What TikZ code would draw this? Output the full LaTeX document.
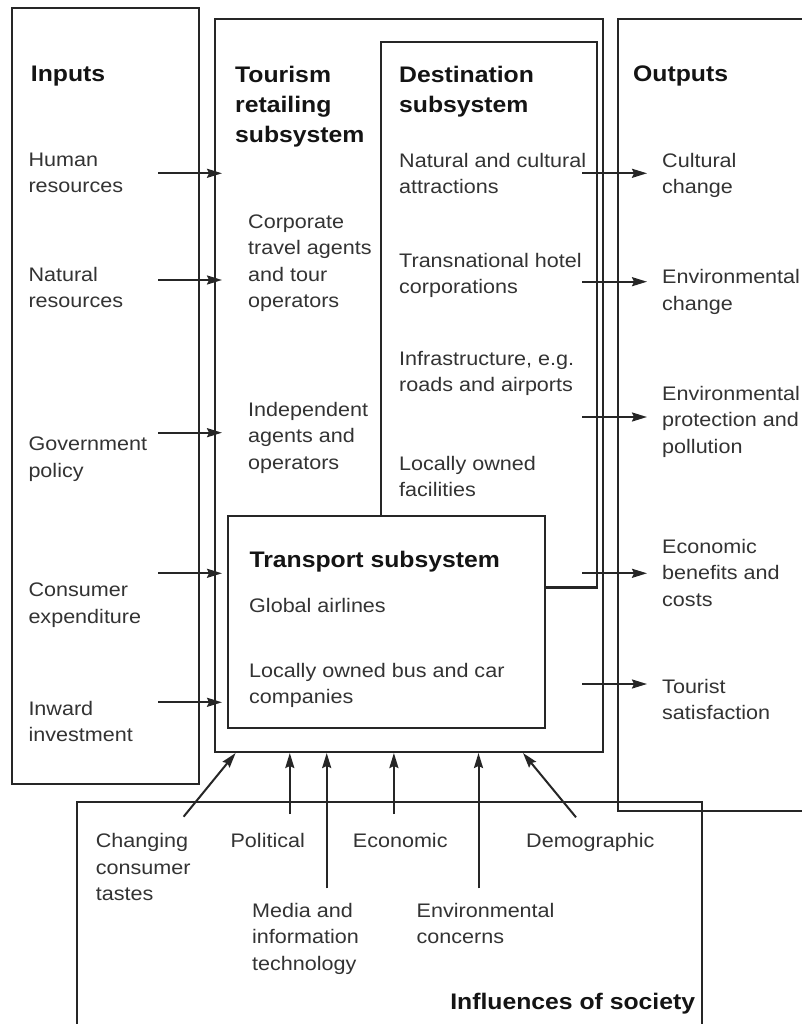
\documentclass[tikz,border=0pt]{standalone}
\usepackage{fontspec}
\setmainfont{Liberation Sans}[FakeStretch=1.1]
\usetikzlibrary{arrows.meta}
\begin{document}
\begin{tikzpicture}[x=1pt,y=-1pt,
  box/.style={draw=black!85,line width=2.3pt},
  arr/.style={draw=black!85,line width=2pt,-{Stealth[length=15pt,width=9pt,inset=2pt]}},
  lbl/.style={anchor=north west,inner sep=0pt,align=left,text=black!80,font=\fontsize{19.6}{26.5}\selectfont},
  hd/.style={anchor=north west,inner sep=0pt,align=left,text=black!92,font=\bfseries\fontsize{22.5}{30}\selectfont}]
\clip (0,0) rectangle (802,1024);
\fill[white] (0,0) rectangle (802,1024);

% boxes
\draw[box] (12.3,8.3) rectangle (199,784);
\draw[box] (215,19) rectangle (603.3,752);
\draw[box] (545,587.5) -- (596.7,587.5) -- (596.7,41.7) -- (381,41.7) -- (381,516);
\draw[box] (228.3,516) rectangle (545,728.3);
\draw[box] (618.3,19) rectangle (840,810.7);
\draw[box] (77.3,801.7) rectangle (702,1050);

% headings
\node[hd] (inputs) at (30.7,65.6) {Inputs};
\node[hd] (trs) at (235,65.6) {Tourism\\retailing\\subsystem};
\node[hd] (ds) at (399,65.6) {Destination\\subsystem};
\node[hd] (outputs) at (633,65.6) {Outputs};
\node[hd] (tsub) at (249.3,550.6) {Transport subsystem};
\node[hd,anchor=north east] (infl) at (695.3,993.2) {Influences of society};

% inputs
\node[lbl] (hr) at (28.3,152.7) {Human\\resources};
\node[lbl] (nr) at (28.3,267) {Natural\\resources};
\node[lbl] (gp) at (28.3,436.7) {Government\\policy};
\node[lbl] (ce) at (28.3,583) {Consumer\\expenditure};
\node[lbl] (ii) at (28.3,701) {Inward\\investment};

% tourism retailing
\node[lbl] (corp) at (248,214.3) {Corporate\\travel agents\\and tour\\operators};
\node[lbl] (indep) at (248,401.7) {Independent\\agents and\\operators};

% destination
\node[lbl] (nca) at (399,152.7) {Natural and cultural\\attractions};
\node[lbl] (thc) at (399,252.7) {Transnational hotel\\corporations};
\node[lbl] (infra) at (399,351) {Infrastructure, e.g.\\roads and airports};
\node[lbl] (lof) at (399,456) {Locally owned\\facilities};

% transport
\node[lbl] (ga) at (249,597.7) {Global airlines};
\node[lbl] (lob) at (249,662.7) {Locally owned bus and car\\companies};

% outputs
\node[lbl] (cc) at (662,152.7) {Cultural\\change};
\node[lbl] (ec) at (662,269.3) {Environmental\\change};
\node[lbl] (epp) at (662,386) {Environmental\\protection and\\pollution};
\node[lbl] (ebc) at (662,538.7) {Economic\\benefits and\\costs};
\node[lbl] (ts) at (662,678.7) {Tourist\\satisfaction};

% influences
\node[lbl] (cct) at (95.6,833.3) {Changing\\consumer\\tastes};
\node[lbl] (pol) at (230.4,833) {Political};
\node[lbl] (eco) at (352.7,833) {Economic};
\node[lbl] (dem) at (526,833) {Demographic};
\node[lbl] (media) at (252,902.7) {Media and\\information\\technology};
\node[lbl] (envc) at (416.5,902.7) {Environmental\\concerns};

% input arrows
\foreach \n/\y in {a/173.3,b/280,c/432.7,d/573.3,e/702.3}{
  \coordinate (in\n s) at (158,\y);
  \coordinate (in\n t) at (222,\y);
  \draw[arr] (in\n s) -- (in\n t);
}
% output arrows
\foreach \n/\y in {a/173.3,b/281.7,c/417,d/573.3,e/684}{
  \coordinate (out\n s) at (582,\y);
  \coordinate (out\n t) at (647,\y);
  \draw[arr] (out\n s) -- (out\n t);
}
% influence arrows
\coordinate (cctS) at (183.6,816.7); \coordinate (cctT) at (235.6,753);
\coordinate (polS) at (289.8,814);   \coordinate (polT) at (289.8,753);
\coordinate (medS) at (326.7,888.3); \coordinate (medT) at (326.7,753);
\coordinate (ecoS) at (393.9,814);   \coordinate (ecoT) at (393.9,753);
\coordinate (envS) at (478.5,888.3); \coordinate (envT) at (478.5,753);
\coordinate (demS) at (576,817.3);   \coordinate (demT) at (523,753);
\draw[arr] (cctS) -- (cctT);
\draw[arr] (polS) -- (polT);
\draw[arr] (medS) -- (medT);
\draw[arr] (ecoS) -- (ecoT);
\draw[arr] (envS) -- (envT);
\draw[arr] (demS) -- (demT);
\end{tikzpicture}
\end{document}
